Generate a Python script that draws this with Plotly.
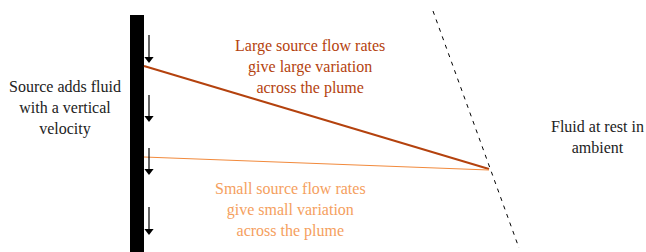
import plotly.graph_objects as go

# geometry (pixel-like data units, y grows downward)
wall_x = [137, 137]
wall_y = [15, 252]
arrow_x = [149, 149, 149, 149]
arrow_top = [35, 95, 148, 207]
arrow_bot = [63, 122, 175, 235]
large_x = [144, 489]
large_y = [66, 169]
small_x = [144, 489]
small_y = [157, 170]
edge_x = [433, 519]
edge_y = [11, 248]

labels = [
    ("Source adds fluid<br>with a vertical<br>velocity", 65, 108, "#222222"),
    ("Large source flow rates<br>give large variation<br>across the plume", 310, 67, "#b4420e"),
    ("Fluid at rest in<br>ambient", 597, 137, "#222222"),
    ("Small source flow rates<br>give small variation<br>across the plume", 290, 210, "#f5a05e"),
]

FONT = "Liberation Serif"

fig = go.Figure()
fig.add_trace(go.Scatter(x=wall_x, y=wall_y, mode="lines",
                         line=dict(color="black", width=14)))
fig.add_trace(go.Scatter(x=large_x, y=large_y, mode="lines",
                         line=dict(color="#b4420e", width=2)))
fig.add_trace(go.Scatter(x=small_x, y=small_y, mode="lines",
                         line=dict(color="#f28a3c", width=1)))
fig.add_trace(go.Scatter(x=edge_x, y=edge_y, mode="lines",
                         line=dict(color="black", width=1, dash="4px,5px")))

# arrows: shafts + heads drawn as data traces
shaft_x, shaft_y = [], []
for x, t, b in zip(arrow_x, arrow_top, arrow_bot):
    shaft_x += [x, x, None]
    shaft_y += [t, b - 4, None]
fig.add_trace(go.Scatter(x=shaft_x, y=shaft_y, mode="lines",
                         line=dict(color="black", width=1.2)))
fig.add_trace(go.Scatter(x=arrow_x, y=[b - 4 for b in arrow_bot], mode="markers",
                         marker=dict(symbol="triangle-down", size=8, color="black",
                                     line=dict(width=0))))

for txt, x, y, c in labels:
    fig.add_annotation(x=x, y=y, xref="x", yref="y", text=txt, showarrow=False,
                       font=dict(family=FONT, size=16, color=c),
                       align="center", xanchor="center", yanchor="middle")

fig.update_layout(
    width=646, height=252, margin=dict(l=0, r=0, t=0, b=0),
    plot_bgcolor="white", showlegend=False,
    font=dict(family=FONT),
    xaxis=dict(range=[0, 646], visible=False),
    yaxis=dict(range=[252, 0], visible=False),
)
fig.write_html("out.html", config={"displayModeBar": False},
               post_script="document.body.style.margin='0px';")
